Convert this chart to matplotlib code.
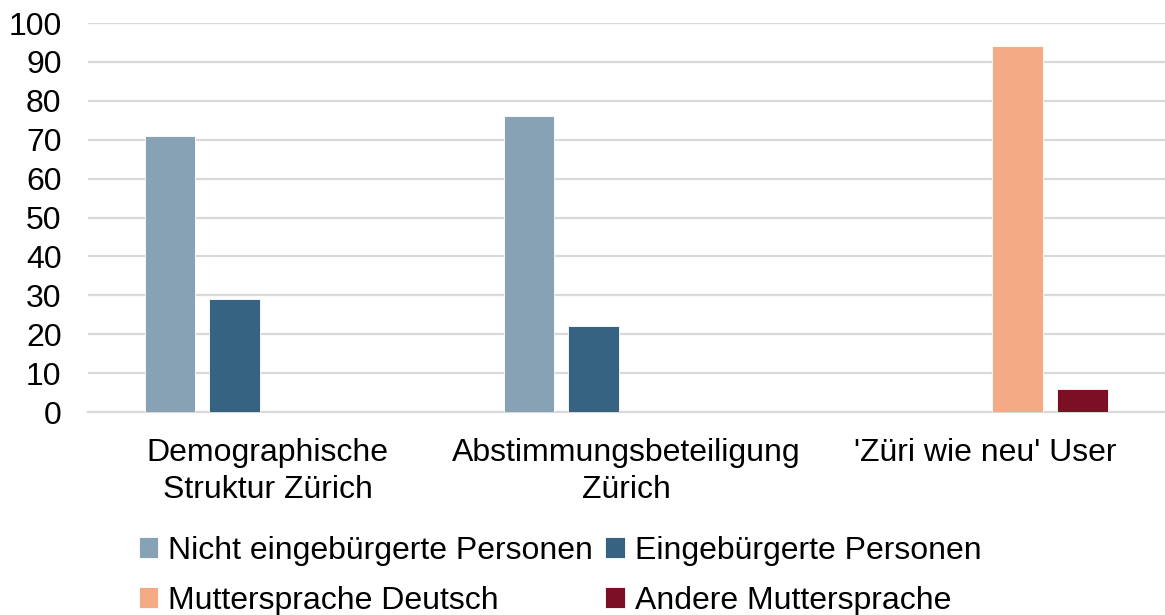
import matplotlib.pyplot as plt
import numpy as np

plt.rcParams['font.family'] = ['Liberation Sans', 'DejaVu Sans']

categories = ["Demographische\nStruktur Zürich", "Abstimmungsbeteiligung\nZürich", "'Züri wie neu' User"]
series_names = ["Nicht eingebürgerte Personen", "Eingebürgerte Personen",
                "Muttersprache Deutsch", "Andere Muttersprache"]
nicht_eingebuergert = [71, 76, np.nan]
eingebuergert = [29, 22, np.nan]
mutter_deutsch = [np.nan, np.nan, 94]
andere_mutter = [np.nan, np.nan, 6]
y_ticks = list(range(0, 101, 10))

colors = ["#87A2B4", "#366382", "#F4AB85", "#7B0F24"]
series = [nicht_eingebuergert, eingebuergert, mutter_deutsch, andere_mutter]

fig = plt.figure(figsize=(11.65, 6.15), dpi=100)
ax = fig.add_axes([0.0755, 0.330, 0.9245, 0.6326])

x = np.arange(len(categories))
slot = 0.181
width = 0.142
bars = []
for i, (vals, col) in enumerate(zip(series, colors)):
    b = ax.bar(x + (i - 1.5) * slot, vals, width, color=col,
               edgecolor="white", linewidth=0.6, zorder=3, label=series_names[i])
    bars.append(b)

fs = 23
ax.set_xlim(-0.5, 2.5)
ax.set_ylim(0, 100)
ax.set_yticks(y_ticks)
ax.set_xticks(x)
ax.set_xticklabels(categories, fontsize=fs, linespacing=1.3)
ax.tick_params(axis="y", labelsize=fs, length=0, pad=19)
ax.tick_params(axis="x", length=0, pad=19)
ax.yaxis.grid(True, color="#D9D9D9", linewidth=1.6, zorder=0)
ax.set_axisbelow(True)
for s in ["top", "right", "left"]:
    ax.spines[s].set_visible(False)
ax.spines["bottom"].set_color("#D9D9D9")
ax.spines["bottom"].set_linewidth(1.6)

# legend rows: first row blue series, second row language series
order = [0, 2, 1, 3]
fig.legend([bars[i] for i in order], [series_names[i] for i in order],
           ncol=2, loc="lower left", bbox_to_anchor=(0.108, -0.022),
           frameon=False, fontsize=fs, handlelength=0.62, handleheight=0.62,
           handletextpad=0.3, columnspacing=0.39, labelspacing=0.62,
           borderaxespad=0.0)

fig.savefig("out.png", dpi=100)
